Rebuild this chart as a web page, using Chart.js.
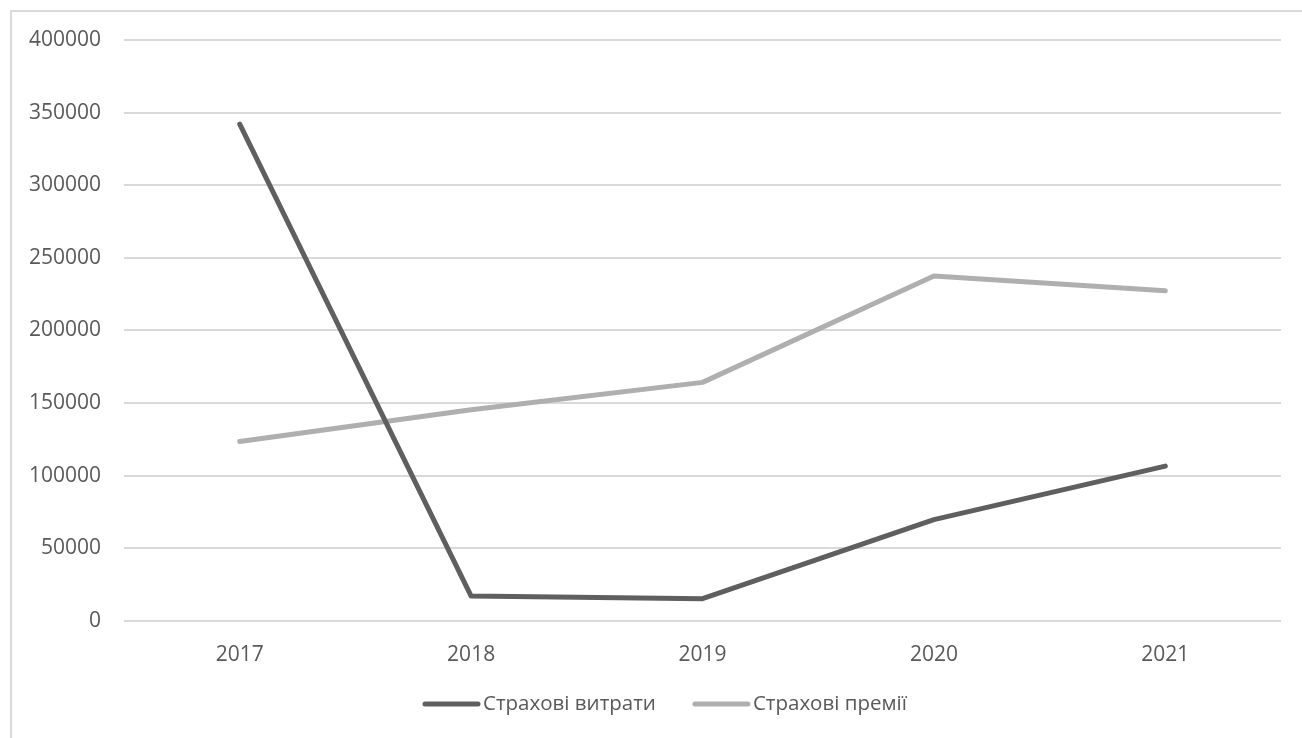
<!DOCTYPE html>
<html>
<head>
<meta charset="utf-8">
<script src="https://cdn.jsdelivr.net/npm/chart.js@4.4.1/dist/chart.umd.min.js"></script>
<style>
  html, body { margin: 0; padding: 0; background: #ffffff; overflow: hidden; }
  #frame {
    position: absolute; left: 10px; top: 10px; width: 1310px; height: 740px;
    border-left: 2px solid #d9d9d9; border-top: 2px solid #d9d9d9;
  }
  #wrap { position: absolute; left: 0; top: 0; width: 1302px; height: 738px; }
</style>
</head>
<body>
<div id="frame"></div>
<div id="wrap"><canvas id="chart" width="1302" height="738"></canvas></div>
<script>
const years = ['2017', '2018', '2019', '2020', '2021'];
const expenses = [342000, 17000, 15200, 69700, 106500];   // Страхові витрати
const premiums = [123500, 145300, 164200, 237400, 227300]; // Страхові премії
const seriesNames = ['Страхові витрати', 'Страхові премії'];
const yTicks = [0, 50000, 100000, 150000, 200000, 250000, 300000, 350000, 400000];

const FONT = '"Open Sans", "Noto Sans", sans-serif';
const TEXT = '#595959';

// Legend drawn as a line swatch followed directly by its label
const lineLegend = {
  id: 'lineLegend',
  afterDraw(chart) {
    const ctx = chart.ctx;
    const y = 704;
    const swatch = 57;
    const gap = 3;
    const spacing = 37;
    ctx.save();
    ctx.font = '20.5px ' + FONT;
    ctx.textBaseline = 'middle';
    let x = 423;
    chart.data.datasets.forEach(ds => {
      ctx.strokeStyle = ds.borderColor;
      ctx.lineWidth = 5;
      ctx.lineCap = 'round';
      ctx.beginPath();
      ctx.moveTo(x + 2, y);
      ctx.lineTo(x + swatch - 2, y);
      ctx.stroke();
      ctx.fillStyle = TEXT;
      ctx.textAlign = 'left';
      ctx.fillText(ds.label, x + swatch + gap, y);
      x += swatch + gap + ctx.measureText(ds.label).width + spacing;
    });
    ctx.restore();
  }
};

new Chart(document.getElementById('chart'), {
  type: 'line',
  data: {
    labels: years,
    datasets: [
      { label: seriesNames[0], data: expenses, borderColor: '#5f5f5f', backgroundColor: '#5f5f5f',
        borderWidth: 5, pointRadius: 0, tension: 0, borderCapStyle: 'round', borderJoinStyle: 'round' },
      { label: seriesNames[1], data: premiums, borderColor: '#afafaf', backgroundColor: '#afafaf',
        borderWidth: 5, pointRadius: 0, tension: 0, borderCapStyle: 'round', borderJoinStyle: 'round' }
    ]
  },
  options: {
    responsive: false,
    animation: false,
    devicePixelRatio: 1,
    layout: { padding: { left: 6, right: 21, top: 40, bottom: 56 } },
    plugins: {
      legend: { display: false },
      tooltip: { enabled: false }
    },
    scales: {
      x: {
        offset: true,
        grid: { display: false },
        border: { display: false },
        ticks: { color: TEXT, font: { family: FONT, size: 21 }, padding: 14, maxRotation: 0 }
      },
      y: {
        min: 0, max: 400000,
        afterBuildTicks(axis) { axis.ticks = yTicks.map(v => ({ value: v })); },
        grid: { color: '#d9d9d9', lineWidth: 2, drawTicks: false },
        border: { display: false },
        ticks: { color: TEXT, font: { family: FONT, size: 21 }, padding: 23,
                 callback: v => String(v) }
      }
    }
  },
  plugins: [lineLegend]
});
</script>
</body>
</html>
